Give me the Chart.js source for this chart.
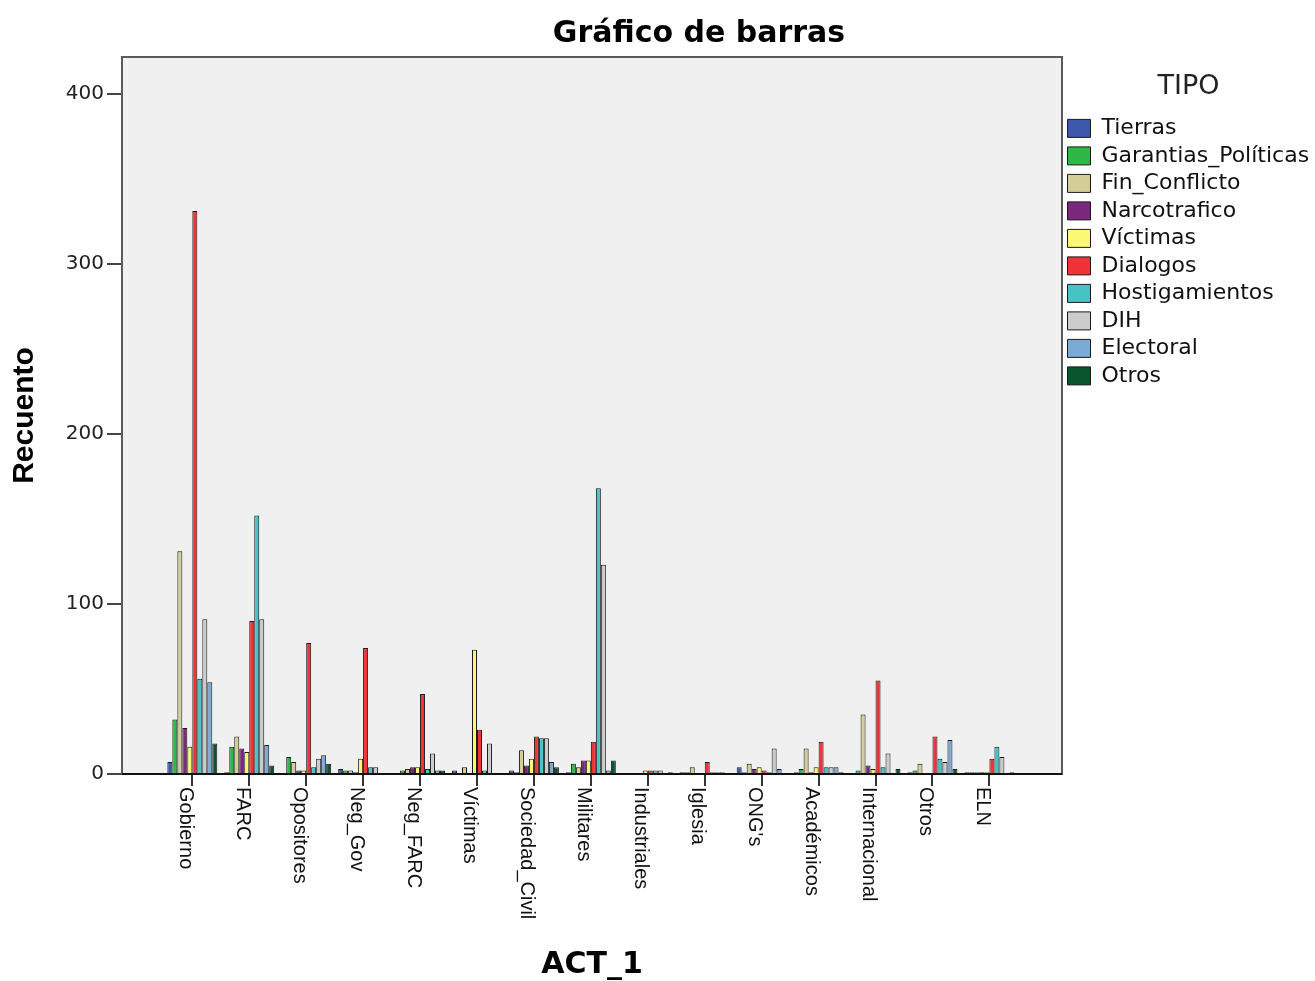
<!DOCTYPE html>
<html>
<head>
<meta charset="utf-8">
<title>Gráfico de barras</title>
<script src="https://cdn.jsdelivr.net/npm/chart.js@4"></script>
<style>
  body { margin: 0; background: #fff; }
  canvas { display: block; }
</style>
</head>
<body>
<canvas id="chart" width="1315" height="981"></canvas>
<script>
// ACT_1 categories (x axis)
const categories = ["Gobierno", "FARC", "Opositores", "Neg_Gov", "Neg_FARC", "Víctimas", "Sociedad_Civil",
    "Militares", "Industriales", "Iglesia", "ONG's", "Académicos", "Internacional", "Otros", "ELN"];

// Recuento per TIPO, one value per category
const tierras         = [7, 1, 0, 3, 0, 2, 2, 1, 0, 1, 4, 1, 0, 1, 1];
const garantias       = [32, 16, 10, 2, 2, 0, 1, 6, 0, 1, 1, 3, 2, 2, 1];
const finConflicto    = [131, 22, 7, 2, 3, 4, 14, 4, 0, 4, 6, 15, 35, 6, 1];
const narcotrafico    = [27, 15, 2, 1, 4, 0, 5, 8, 0, 0, 3, 1, 5, 0, 1];
const victimas        = [16, 13, 2, 9, 4, 73, 9, 8, 2, 0, 4, 4, 3, 0, 1];
const dialogos        = [331, 90, 77, 74, 47, 26, 22, 19, 2, 7, 2, 19, 55, 22, 9];
const hostigamientos  = [56, 152, 4, 4, 3, 2, 21, 168, 2, 1, 1, 4, 4, 9, 16];
const dih             = [91, 91, 9, 4, 12, 18, 21, 123, 2, 1, 15, 4, 12, 7, 10];
const electoral       = [54, 17, 11, 0, 2, 0, 7, 2, 0, 1, 3, 4, 0, 20, 0];
const otros           = [18, 5, 6, 0, 2, 0, 4, 8, 1, 0, 0, 1, 3, 3, 1];

const tipos = ["Tierras", "Garantias_Políticas", "Fin_Conflicto", "Narcotrafico", "Víctimas",
    "Dialogos", "Hostigamientos", "DIH", "Electoral", "Otros"];
const series = [tierras, garantias, finConflicto, narcotrafico, victimas,
    dialogos, hostigamientos, dih, electoral, otros];

const yTicks = [0, 100, 200, 300, 400];

// SPSS default palette
const colors = ["#3E58AC", "#2EB848", "#D3CE97", "#7C287D", "#FBF873",
    "#EF3338", "#48C2C5", "#CCCCCC", "#7AAAD5", "#0A562C"];

const datasets = tipos.map((name, i) => ({
    label: name,
    data: series[i],
    backgroundColor: colors[i],
    borderColor: "#1a1a1a",
    borderWidth: 1,
    barPercentage: 1,
    categoryPercentage: 0.877
}));

// plot background + frame, like the SPSS output
const framePlugin = {
    id: "frame",
    beforeDatasetsDraw(chart) {
        const a = chart.chartArea;
        const ctx = chart.ctx;
        ctx.save();
        ctx.fillStyle = "#F0F0F0";
        ctx.fillRect(a.left, a.top, a.right - a.left, a.bottom - a.top);
        ctx.restore();
    },
    afterDatasetsDraw(chart) {
        const a = chart.chartArea;
        const ctx = chart.ctx;
        ctx.save();
        ctx.strokeStyle = "#5a5a5a";
        ctx.lineWidth = 2;
        ctx.strokeRect(a.left, a.top, a.right - a.left, a.bottom - a.top);
        ctx.strokeStyle = "#111";
        ctx.beginPath();
        ctx.moveTo(a.left, a.bottom);
        ctx.lineTo(a.right, a.bottom);
        ctx.stroke();
        ctx.restore();
    }
};

// category labels read top to bottom, and the chart title
const labelsPlugin = {
    id: "vlabels",
    afterDraw(chart) {
        const ctx = chart.ctx;
        const x = chart.scales.x;
        const a = chart.chartArea;
        ctx.save();
        ctx.fillStyle = "#111";
        ctx.font = "20px 'Liberation Sans', Arial, sans-serif";
        ctx.textAlign = "left";
        ctx.textBaseline = "alphabetic";
        categories.forEach((c, i) => {
            const px = x.getPixelForValue(i);
            ctx.save();
            ctx.translate(px, a.bottom + 13);
            ctx.rotate(Math.PI / 2);
            ctx.fillText(c, 0, 12.5);
            ctx.restore();
        });
        ctx.font = "bold 30px 'DejaVu Sans', sans-serif";
        ctx.textAlign = "center";
        ctx.fillStyle = "#000";
        ctx.fillText("Gráfico de barras", 699, 42);
        ctx.restore();
    }
};

new Chart(document.getElementById("chart"), {
    type: "bar",
    data: { labels: categories, datasets: datasets },
    plugins: [framePlugin, labelsPlugin],
    options: {
        responsive: false,
        animation: false,
        layout: { padding: { top: 57, right: 0, bottom: 0, left: 0 } },
        plugins: {
            tooltip: { enabled: false },
            legend: {
                position: "right",
                align: "start",
                maxWidth: 253,
                title: {
                    display: true,
                    text: "TIPO",
                    color: "#222",
                    font: { family: "DejaVu Sans", size: 27 },
                    padding: { top: 16.5, bottom: 6 }
                },
                labels: {
                    boxWidth: 23,
                    boxHeight: 18,
                    padding: 5.5,
                    color: "#111",
                    font: { family: "DejaVu Sans", size: 22 }
                }
            }
        },
        scales: {
            x: {
                type: "category",
                offset: false,
                border: { display: false },
                grid: { offset: false, drawOnChartArea: false, drawTicks: true, tickLength: 12, color: "#333", lineWidth: 2 },
                ticks: { display: false },
                title: {
                    display: true,
                    text: "ACT_1",
                    color: "#000",
                    font: { family: "DejaVu Sans", size: 30, weight: "bold", lineHeight: 1 },
                    padding: { top: 0, bottom: 1 }
                },
                afterBuildTicks: function(scale) {
                    // SPSS leaves an empty margin at both ends of the category axis
                    scale._startValue = -1.235;
                    scale._valueRange = 16.51;
                },
                afterFit: function(scale) { scale.height = 207; }
            },
            y: {
                min: 0,
                max: 421.5,
                border: { display: false },
                grid: { drawOnChartArea: false, drawTicks: true, tickLength: 15, color: "#444", lineWidth: 2 },
                ticks: {
                    stepSize: 100,
                    includeBounds: false,
                    padding: 3,
                    color: "#222",
                    font: { family: "DejaVu Sans", size: 20 }
                },
                afterBuildTicks: function(scale) {
                    scale.ticks = yTicks.map(v => ({ value: v }));
                },
                title: {
                    display: true,
                    text: "Recuento",
                    color: "#000",
                    font: { family: "Liberation Sans", size: 30, weight: "bold", lineHeight: 1 },
                    padding: { top: 10, bottom: 0 }
                },
                afterFit: function(scale) { scale.width = 122; }
            }
        }
    }
});
</script>
</body>
</html>
